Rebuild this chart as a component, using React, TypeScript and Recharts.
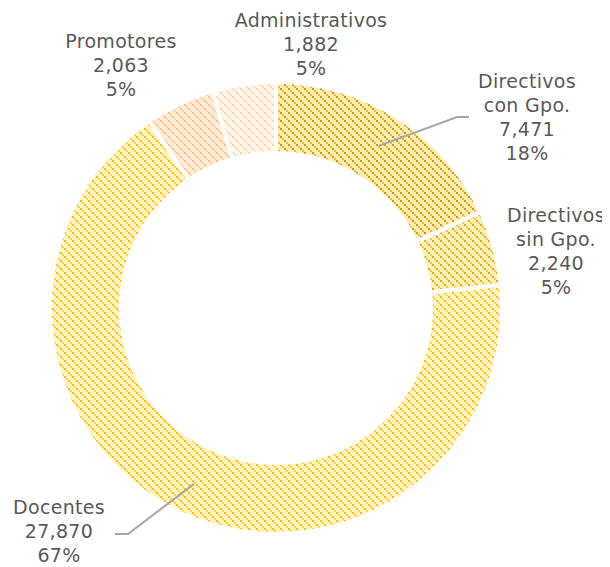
import React from "react";
import { PieChart, Pie, Cell } from "recharts";

const categories = ["Directivos con Gpo.", "Directivos sin Gpo.", "Docentes", "Promotores", "Administrativos"];
const values = [7471, 2240, 27870, 2063, 1882];
const percentLabels = ["18%", "5%", "67%", "5%", "5%"];
const labelLines: string[][] = [
  ["Directivos", "con Gpo."],
  ["Directivos", "sin Gpo."],
  ["Docentes"],
  ["Promotores"],
  ["Administrativos"],
];

const data = categories.map((name, i) => ({ name, value: values[i] }));

// styling
const palette = [
  { bg: "#fdebb0", fg: "#c89a08", mid: "#e2bd4c" },
  { bg: "#fdedb6", fg: "#e0ae08", mid: "#efc850" },
  { bg: "#fff3c4", fg: "#ffbf00", mid: "#ffd24a" },
  { bg: "#feecd9", fg: "#fcc285", mid: "#fdd2a2" },
  { bg: "#fff4ea", fg: "#fdd2a4", mid: "#fee0c0" },
];

const CX = 268;
const CY = 300;
const RAD = Math.PI / 180;
const LH = 24;

// label anchor offsets relative to pie centre (text centre x, first baseline y)
const labelOffsets = [
  { dx: 251, dy: -220 },
  { dx: 280, dy: -86 },
  { dx: -217, dy: 206 },
  { dx: -155, dy: -260 },
  { dx: 35, dy: -281 },
];
// leader lines: start radius, elbow offset and end offset
const leaders: (null | { r: number; elbow: [number, number]; end: [number, number] })[] = [
  { r: 192, elbow: [181, -191], end: [193, -191] },
  null,
  { r: 194, elbow: [-148, 226], end: [-161, 226] },
  null,
  null,
];

const fmt = (v: number) => v.toLocaleString("en-US");

const renderLabel = (props: any) => {
  const { index, midAngle } = props;
  const off = labelOffsets[index];
  const lines = [...labelLines[index], fmt(values[index]), percentLabels[index]];
  const x = CX + off.dx;
  const y0 = CY + off.dy;
  const ld = leaders[index];
  let path: React.ReactNode = null;
  if (ld) {
    const sx = CX + ld.r * Math.cos(-midAngle * RAD);
    const sy = CY + ld.r * Math.sin(-midAngle * RAD);
    path = (
      <polyline
        points={`${sx},${sy} ${CX + ld.elbow[0]},${CY + ld.elbow[1]} ${CX + ld.end[0]},${CY + ld.end[1]}`}
        fill="none"
        stroke="#a6a6a6"
        strokeWidth={2}
      />
    );
  }
  return (
    <g key={`lbl-${index}`}>
      {path}
      <text
        x={x}
        y={y0}
        textAnchor="middle"
        fill="#595959"
        style={{ fontFamily: "DejaVu Sans", fontSize: 19, letterSpacing: 0.3 }}
      >
        {lines.map((t, i) => (
          <tspan key={i} x={x} y={y0 + i * LH}>
            {t}
          </tspan>
        ))}
      </text>
    </g>
  );
};

export default function App() {
  return (
    <PieChart width={602} height={559} margin={{ top: 0, right: 0, bottom: 0, left: 0 }}>
      <defs>
        {palette.map((p, i) => (
          <pattern key={i} id={`pat${i}`} patternUnits="userSpaceOnUse" width={8} height={8}>
            <rect x={0} y={0} width={8} height={8} fill={p.bg} />
            <rect x={2} y={2} width={2} height={2} fill={p.mid} />
            <rect x={6} y={6} width={2} height={2} fill={p.mid} />
            <rect x={0} y={0} width={2} height={2} fill={p.fg} />
            <rect x={4} y={4} width={2} height={2} fill={p.fg} />
          </pattern>
        ))}
      </defs>
      <Pie
        data={data}
        dataKey="value"
        nameKey="name"
        cx={CX}
        cy={CY}
        innerRadius={155}
        outerRadius={226}
        startAngle={90}
        endAngle={-270}
        stroke="#ffffff"
        strokeWidth={4}
        label={renderLabel}
        labelLine={false}
        isAnimationActive={false}
      >
        {data.map((_, i) => (
          <Cell key={i} fill={`url(#pat${i})`} />
        ))}
      </Pie>
    </PieChart>
  );
}
